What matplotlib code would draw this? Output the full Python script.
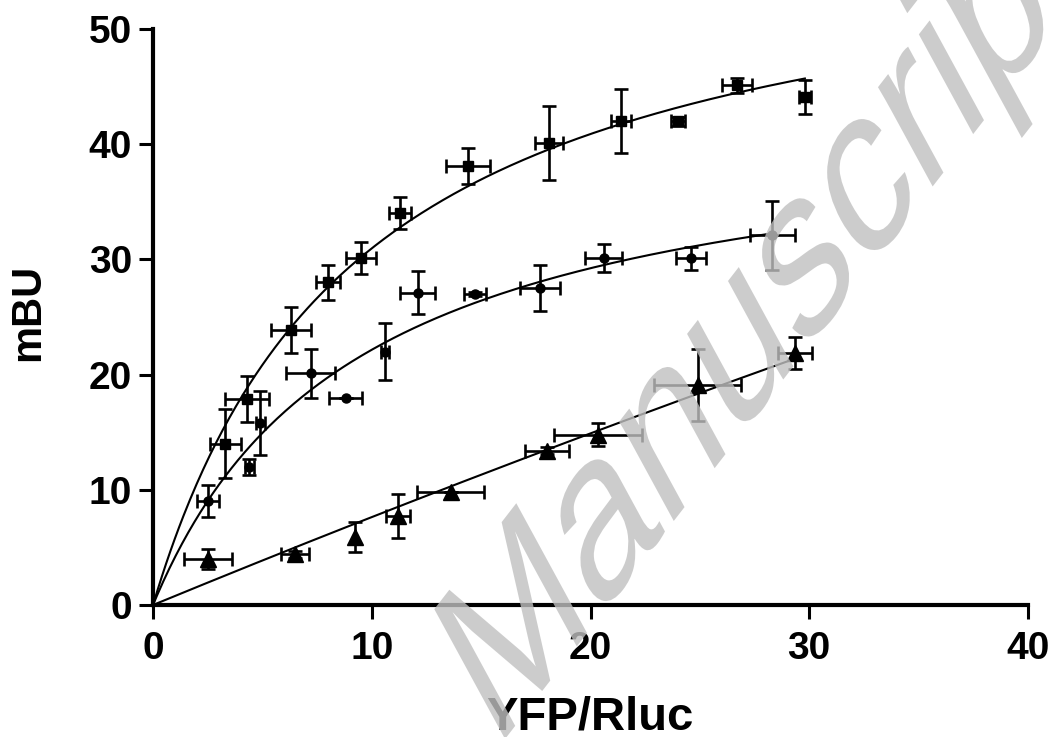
import numpy as np
import matplotlib
matplotlib.use('Agg')
import matplotlib.pyplot as plt
from matplotlib.textpath import TextPath
from matplotlib.patches import PathPatch
from matplotlib.font_manager import FontProperties
from matplotlib.transforms import Affine2D

plt.rcParams['font.family'] = ['Liberation Sans', 'DejaVu Sans']
plt.rcParams['font.weight'] = 'bold'

# Квадраты (верхняя кривая)
sq_x = [3.3, 4.3, 6.3, 8.0, 9.5, 11.3, 14.4, 18.1, 21.4, 24.0, 26.7, 29.8]
sq_y = [14.0, 17.9, 23.9, 28.0, 30.1, 34.0, 38.1, 40.1, 42.0, 42.0, 45.1, 44.1]
sq_xerr = [0.7, 1.0, 0.9, 0.55, 0.7, 0.5, 1.0, 0.64, 0.47, 0.3, 0.7, 0.27]
sq_yerr = [3.0, 2.0, 2.0, 1.5, 1.4, 1.4, 1.55, 3.2, 2.8, 0.4, 0.65, 1.5]

# Кружки (средняя кривая)
ci_x = [2.5, 4.4, 4.9, 7.2, 8.8, 10.6, 12.1, 14.7, 17.7, 20.6, 24.6, 28.3]
ci_y = [9.0, 12.0, 15.8, 20.1, 18.0, 22.0, 27.1, 27.0, 27.5, 30.1, 30.1, 32.1]
ci_xerr = [0.5, 0.2, 0.2, 1.1, 0.77, 0.2, 0.8, 0.5, 0.92, 0.86, 0.67, 1.03]
ci_yerr = [1.4, 0.7, 2.8, 2.1, 0.0, 2.5, 1.85, 0.2, 2.0, 1.2, 1.0, 3.0]

# Треугольники (нижняя кривая)
tr_x = [2.5, 6.5, 9.25, 11.2, 13.6, 18.0, 20.35, 24.9, 29.35]
tr_y = [4.0, 4.4, 5.9, 7.7, 9.85, 13.4, 14.8, 19.1, 21.9]
tr_xerr = [1.1, 0.65, 0.0, 0.57, 1.53, 1.0, 2.0, 2.0, 0.76]
tr_yerr = [0.9, 0.3, 1.3, 1.9, 0.0, 0.3, 0.97, 3.1, 1.4]


def fit_hyper(x, y):
    # одноцентровая гипербола Bmax*x/(Kd+x), подбор Kd перебором
    x = np.asarray(x)
    y = np.asarray(y)
    best = None
    for kd in np.linspace(0.5, 400, 8000):
        f = x / (kd + x)
        b = (y * f).sum() / (f * f).sum()
        r = ((y - b * f) ** 2).sum()
        if best is None or r < best[2]:
            best = (b, kd, r)
    return best[0], best[1]


fig = plt.figure(figsize=(10.55, 7.37), dpi=100)
ax = fig.add_axes([153 / 1055, 132 / 737, 875 / 1055, 576 / 737])

series = [
    (sq_x, sq_y, sq_xerr, sq_yerr, 's', 7),
    (ci_x, ci_y, ci_xerr, ci_yerr, 'o', 6.5),
    (tr_x, tr_y, tr_xerr, tr_yerr, '^', 11),
]
for x, y, xe, ye, m, ms in series:
    ax.errorbar(x, y, xerr=xe, yerr=ye, fmt=m, color='black', ms=ms,
                elinewidth=1.9, capsize=5, capthick=1.9, zorder=3)
    bmax, kd = fit_hyper(x, y)
    xx = np.linspace(0, max(x), 300)
    ax.plot(xx, bmax * xx / (kd + xx), color='black', lw=1.5, zorder=2)

ax.set_xlim(0, 40)
ax.set_ylim(0, 50)
ax.set_xticks([0, 10, 20, 30, 40])
ax.set_yticks([0, 10, 20, 30, 40, 50])
for s in ['top', 'right']:
    ax.spines[s].set_visible(False)
for s in ['left', 'bottom']:
    ax.spines[s].set_linewidth(3)
ax.tick_params(axis='both', width=2.2, length=10, labelsize=28)
ax.tick_params(axis='x', pad=9)
ax.tick_params(axis='y', pad=5)
for lab in ax.get_xticklabels() + ax.get_yticklabels():
    lab.set_fontweight('bold')
ax.patch.set_visible(False)

fig.text(590 / 1055, 1 - 729 / 737, 'YFP/Rluc', ha='center', va='baseline',
         fontsize=34, fontweight='bold')
fig.text(28 / 1055, 1 - 312 / 737, 'mBU', ha='center', va='center',
         rotation=90, fontsize=30, fontweight='bold')

# Водяной знак (повёрнут и растянут по вертикали, как в оригинале)
tp = TextPath((0, 0), 'Manuscript', size=160,
              prop=FontProperties(family='Liberation Sans', weight='normal'))
tf = Affine2D().rotate_deg(40).scale(1, 1.54).translate(495, -15)
wm = PathPatch(tp, transform=tf, facecolor='#c0c0c0', edgecolor='none',
               alpha=0.8, zorder=10)
fig.add_artist(wm)

fig.savefig('out.png', dpi=100)
